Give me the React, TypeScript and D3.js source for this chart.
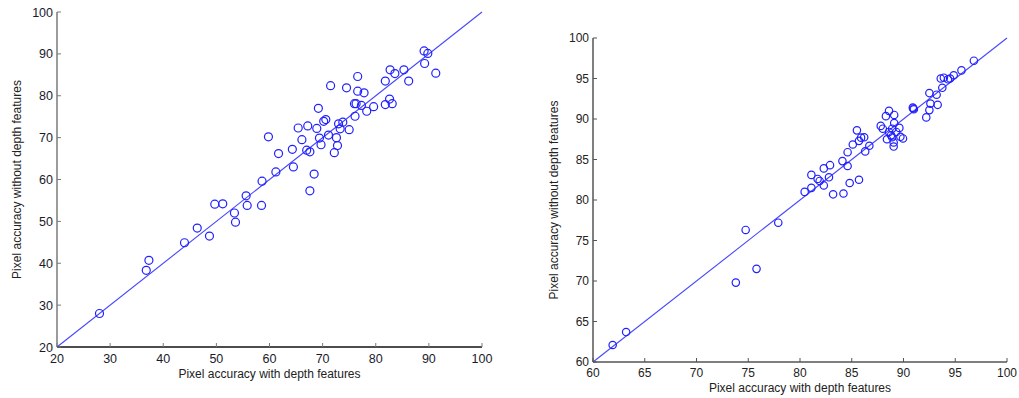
import { useEffect, useRef } from "react";
import * as d3 from "d3";

// left panel: pixel accuracy (with depth, without depth)
const leftWith = [
  28.0, 36.8, 37.3, 44.0, 46.4, 48.7, 49.7, 51.2, 53.4, 53.6, 55.6, 55.8, 58.5,
  58.6, 59.8, 61.2, 61.7, 64.3, 64.5, 65.4, 66.1, 67.2, 67.0, 67.6, 67.6, 68.4,
  68.9, 69.2, 69.4, 69.7, 70.2, 70.6, 71.1, 71.5, 72.2, 72.6, 72.8, 73.0, 73.3,
  73.8, 74.5, 75.0, 76.1, 76.0, 76.3, 76.6, 76.6, 77.3, 77.8, 78.3, 79.6, 81.8,
  81.8, 82.6, 82.7, 83.1, 83.6, 85.3, 86.2, 89.1, 89.2, 89.8, 91.3,
];
const leftWithout = [
  28.0, 38.3, 40.7, 44.9, 48.4, 46.5, 54.1, 54.2, 52.0, 49.8, 56.1, 53.8, 53.8,
  59.6, 70.2, 61.8, 66.2, 67.2, 63.0, 72.3, 69.5, 72.8, 67.0, 66.6, 57.3, 61.3,
  72.2, 77.0, 69.9, 68.3, 73.9, 74.3, 70.6, 82.4, 66.4, 70.0, 68.1, 73.3, 72.1,
  73.7, 81.9, 71.9, 75.1, 78.1, 78.1, 84.6, 81.1, 77.7, 80.7, 76.3, 77.4, 83.5,
  77.9, 79.2, 86.2, 78.1, 85.3, 86.2, 83.5, 90.7, 87.7, 90.1, 85.4,
];
const leftTicks = [20, 30, 40, 50, 60, 70, 80, 90, 100];

// right panel
const rightWith = [
  61.9, 63.2, 73.8, 74.75, 75.8, 77.9, 80.45, 81.1, 81.1, 81.7, 81.9, 82.3, 82.3,
  82.8, 82.9, 83.2, 84.1, 84.2, 84.6, 84.6, 84.8, 85.1, 85.5, 85.7, 85.7, 85.9,
  86.2, 86.3, 86.7, 87.8, 88.0, 88.3, 88.4, 88.6, 88.6, 88.8, 88.9, 88.9, 89.05,
  89.05, 89.1, 89.1, 89.3, 89.6, 89.7, 89.95, 90.9, 91.0, 90.95, 92.2, 92.5, 92.5,
  92.6, 93.2, 93.3, 93.6, 93.75, 93.9, 94.3, 94.5, 94.85, 95.6, 96.8,
];
const rightWithout = [
  62.1, 63.7, 69.8, 76.3, 71.5, 77.2, 81.0, 83.1, 81.5, 82.6, 82.35, 83.9, 81.8,
  82.8, 84.3, 80.7, 84.8, 80.8, 84.2, 85.9, 82.1, 86.85, 88.6, 87.3, 82.5, 87.7,
  87.75, 86.0, 86.7, 89.15, 88.8, 90.35, 87.5, 91.0, 88.4, 88.0, 88.8, 87.75,
  87.1, 86.6, 90.5, 89.5, 88.4, 88.9, 87.8, 87.6, 91.4, 91.2, 91.3, 90.2, 91.1,
  93.2, 91.9, 93.0, 91.75, 95.0, 93.85, 95.1, 94.9, 95.0, 95.4, 96.0, 97.2,
];
const rightTicks = [60, 65, 70, 75, 80, 85, 90, 95, 100];

const FONT = "'Liberation Sans', Arial, sans-serif";

type PanelProps = {
  xs: number[];
  ys: number[];
  ticks: number[];
  left: number;
  right: number;
  top: number;
  bottom: number;
  r: number;
  yAxisColor: string;
  xAxisColor: string;
  tickColor: string;
  labelColor: string;
  fontSize: number;
  xLabelY: number;
  xTitleY: number;
  yTitleX: number;
};

function drawPanel(g: d3.Selection<SVGGElement, unknown, null, undefined>, p: PanelProps) {
  const lo = p.ticks[0];
  const hi = p.ticks[p.ticks.length - 1];
  const x = d3.scaleLinear().domain([lo, hi]).range([p.left, p.right]);
  const y = d3.scaleLinear().domain([lo, hi]).range([p.bottom, p.top]);

  // y = x reference line
  g.append("line")
    .attr("x1", x(lo))
    .attr("y1", y(lo))
    .attr("x2", x(hi))
    .attr("y2", y(hi))
    .attr("stroke", "#4646ff")
    .attr("stroke-width", 1.1);

  g.selectAll("circle.pt")
    .data(d3.zip(p.xs, p.ys))
    .enter()
    .append("circle")
    .attr("class", "pt")
    .attr("cx", (d) => x(d[0]))
    .attr("cy", (d) => y(d[1]))
    .attr("r", p.r)
    .attr("fill", "none")
    .attr("stroke", "#2020ff")
    .attr("stroke-width", 1.2);

  // axes (inward ticks, no box)
  g.append("line")
    .attr("x1", p.left)
    .attr("x2", p.left)
    .attr("y1", p.top)
    .attr("y2", p.bottom)
    .attr("stroke", p.yAxisColor)
    .attr("stroke-width", 1.5);
  g.append("line")
    .attr("x1", p.left)
    .attr("x2", p.right)
    .attr("y1", p.bottom)
    .attr("y2", p.bottom)
    .attr("stroke", p.xAxisColor)
    .attr("stroke-width", 1.5);

  g.selectAll("line.yt")
    .data(p.ticks)
    .enter()
    .append("line")
    .attr("x1", p.left)
    .attr("x2", p.left + 4)
    .attr("y1", (d) => y(d))
    .attr("y2", (d) => y(d))
    .attr("stroke", p.tickColor);
  g.selectAll("line.xt")
    .data(p.ticks)
    .enter()
    .append("line")
    .attr("x1", (d) => x(d))
    .attr("x2", (d) => x(d))
    .attr("y1", p.bottom)
    .attr("y2", p.bottom - 4)
    .attr("stroke", p.tickColor);

  g.selectAll("text.yl")
    .data(p.ticks)
    .enter()
    .append("text")
    .attr("x", p.left - 4)
    .attr("y", (d) => y(d))
    .attr("dy", "0.36em")
    .attr("text-anchor", "end")
    .attr("font-size", p.fontSize)
    .attr("fill", p.labelColor)
    .text((d) => d);
  g.selectAll("text.xl")
    .data(p.ticks)
    .enter()
    .append("text")
    .attr("x", (d) => x(d))
    .attr("y", p.xLabelY)
    .attr("text-anchor", "middle")
    .attr("font-size", p.fontSize)
    .attr("fill", p.labelColor)
    .text((d) => d);

  g.append("text")
    .attr("x", (p.left + p.right) / 2)
    .attr("y", p.xTitleY)
    .attr("text-anchor", "middle")
    .attr("font-size", 12)
    .attr("fill", "#222")
    .text("Pixel accuracy with depth features");
  g.append("text")
    .attr("transform", `translate(${p.yTitleX},${(p.top + p.bottom) / 2}) rotate(-90)`)
    .attr("text-anchor", "middle")
    .attr("font-size", 12)
    .attr("fill", "#222")
    .text("Pixel accuracy without depth features");
}

const App = () => {
  const svgRef = useRef<SVGSVGElement>(null);

  useEffect(() => {
    const svg = d3.select(svgRef.current);
    svg.selectAll("*").remove();
    svg.append("rect").attr("width", 1019).attr("height", 398).attr("fill", "white");
    svg.attr("font-family", FONT);

    drawPanel(svg.append("g"), {
      xs: leftWith,
      ys: leftWithout,
      ticks: leftTicks,
      left: 57,
      right: 482,
      top: 12,
      bottom: 347,
      r: 4,
      yAxisColor: "#7a7a7a",
      xAxisColor: "#111",
      tickColor: "#7a7a7a",
      labelColor: "#1a1a2a",
      fontSize: 12.5,
      xLabelY: 363,
      xTitleY: 378,
      yTitleX: 21,
    });

    drawPanel(svg.append("g"), {
      xs: rightWith,
      ys: rightWithout,
      ticks: rightTicks,
      left: 593,
      right: 1007,
      top: 38,
      bottom: 362,
      r: 3.7,
      yAxisColor: "#555",
      xAxisColor: "#555",
      tickColor: "#555",
      labelColor: "#222",
      fontSize: 12,
      xLabelY: 377,
      xTitleY: 392,
      yTitleX: 558,
    });
  }, []);

  return (
    <svg
      ref={svgRef}
      width={1019}
      height={398}
      style={{ position: "absolute", left: 0, top: 0 }}
    />
  );
};

export default App;
